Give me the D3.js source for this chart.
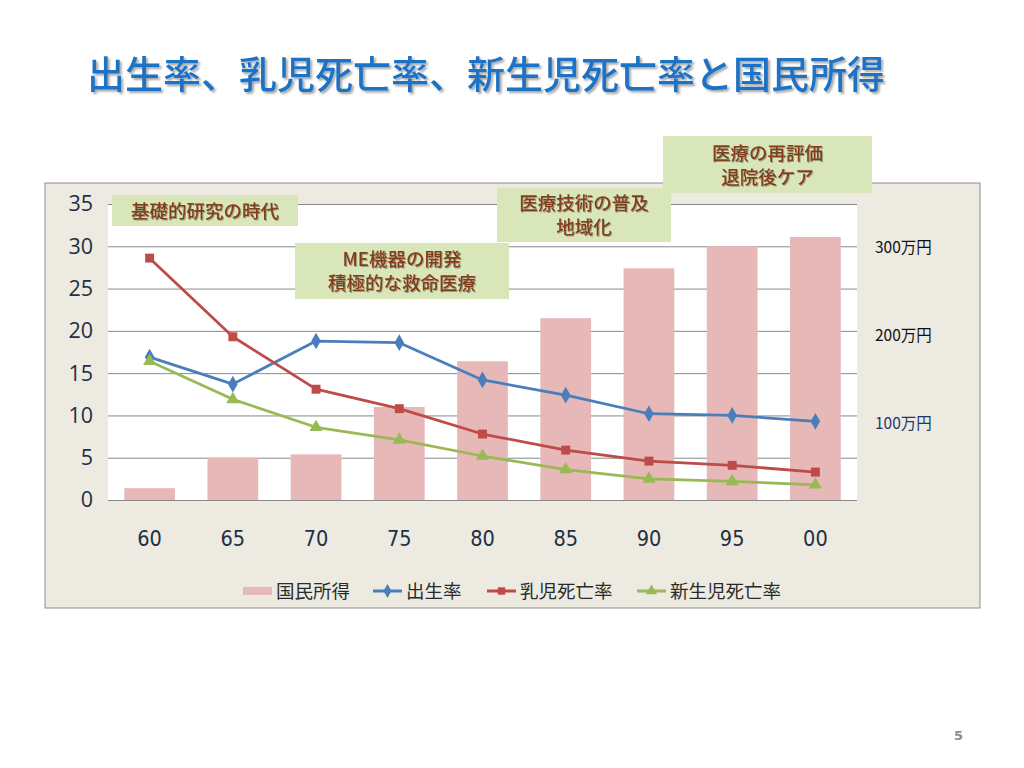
<!DOCTYPE html>
<html>
<head>
<meta charset="utf-8">
<script src="https://cdn.jsdelivr.net/npm/d3@7"></script>
<style>
  body { margin: 0; background: #fff; }
  svg { display: block; }
</style>
</head>
<body>
<div id="chart"></div>
<script>
// data
var years = ["60", "65", "70", "75", "80", "85", "90", "95", "00"];
var income = [14, 50, 54, 110, 164, 215, 274, 300, 311];          // 国民所得 (万円)
var birthRate = [16.9, 13.7, 18.8, 18.6, 14.2, 12.4, 10.2, 10.0, 9.3];   // 出生率
var infantDeath = [28.6, 19.3, 13.1, 10.8, 7.8, 5.9, 4.6, 4.1, 3.3];   // 乳児死亡率
var neonatalDeath = [16.4, 11.9, 8.6, 7.1, 5.2, 3.6, 2.5, 2.2, 1.8];   // 新生児死亡率
var leftTicks = [0, 5, 10, 15, 20, 25, 30, 35];
var incomeLabels = [300, 200, 100];
var title = "出生率、乳児死亡率、新生児死亡率と国民所得";

var W = 1024, H = 768;
var frame = {x: 45, y: 183, w: 935, h: 425};
var margin = {top: 204, left: 108, right: 167, bottom: 268};
var width = W - margin.left - margin.right,
    height = H - margin.top - margin.bottom;

var svg = d3.select("#chart").append("svg")
  .attr("width", W).attr("height", H);

var defs = svg.append("defs");
var f1 = defs.append("filter").attr("id", "tshadow")
  .attr("x", "-5%").attr("y", "-20%").attr("width", "110%").attr("height", "140%");
f1.append("feDropShadow").attr("dx", 2).attr("dy", 2).attr("stdDeviation", 1.2)
  .attr("flood-color", "#000").attr("flood-opacity", 0.35);
var f2 = defs.append("filter").attr("id", "ashadow")
  .attr("x", "-5%").attr("y", "-20%").attr("width", "110%").attr("height", "140%");
f2.append("feDropShadow").attr("dx", 1).attr("dy", 1).attr("stdDeviation", 0.6)
  .attr("flood-color", "#000").attr("flood-opacity", 0.3);

// title
svg.append("text")
  .attr("x", 87).attr("y", 88)
  .attr("font-family", "'Noto Sans CJK JP', sans-serif")
  .attr("font-size", 38)
  .attr("font-weight", 500)
  .attr("fill", "#1F72C4")
  .attr("filter", "url(#tshadow)")
  .text(title);

// chart frame
svg.append("rect")
  .attr("x", frame.x).attr("y", frame.y)
  .attr("width", frame.w).attr("height", frame.h)
  .attr("fill", "#ECEAE1").attr("stroke", "#8C8C8C").attr("stroke-width", 1);

var g = svg.append("g")
  .attr("transform", `translate(${margin.left}, ${margin.top})`);

g.append("rect").attr("width", width).attr("height", height).attr("fill", "#fff");

// scales
var x = d3.scaleBand().domain(years).range([0, width]).paddingInner(0.39).paddingOuter(0.195);
var y = d3.scaleLinear().domain([0, 35]).range([height, 0]);
var yIncome = d3.scaleLinear().domain([0, 350]).range([height, 0]);

// gridlines
g.append("g")
  .call(d3.axisLeft(y).tickValues(leftTicks).tickSize(-width).tickFormat(""))
  .call(function(a) {
    a.select(".domain").remove();
    a.selectAll("line").attr("stroke", "#8A8A8A").attr("stroke-width", 1);
  });

// Y axis labels
g.append("g")
  .call(d3.axisLeft(y).tickValues(leftTicks).tickSize(0).tickPadding(15))
  .call(function(a) {
    a.select(".domain").remove();
    a.selectAll("text")
      .attr("font-family", "'Open Sans', 'DejaVu Sans', sans-serif")
      .attr("font-size", 21.5).attr("fill", "#1F2F45");
  });

// X axis labels
g.append("g")
  .attr("transform", `translate(0, ${height})`)
  .call(d3.axisBottom(x).tickSize(0).tickPadding(31))
  .call(function(a) {
    a.select(".domain").remove();
    a.selectAll("text")
      .attr("font-family", "'DejaVu Sans Condensed', 'DejaVu Sans', sans-serif")
      .attr("font-size", 21.5).attr("fill", "#1F2F45");
  });

// income bars
g.append("g").selectAll("rect")
  .data(income)
  .join("rect")
  .attr("x", function(d, i) { return x(years[i]); })
  .attr("y", function(d) { return yIncome(d); })
  .attr("width", x.bandwidth())
  .attr("height", function(d) { return height - yIncome(d); })
  .attr("fill", "#E6B9B8");

// right side income labels
g.append("g").selectAll("text")
  .data(incomeLabels)
  .join("text")
  .attr("x", width + 18)
  .attr("y", function(d) { return yIncome(d) + 7 + (300 - d) * 0.035; })
  .attr("font-family", "'Noto Sans CJK JP', sans-serif")
  .attr("font-size", 15.5)
  .attr("fill", function(d) { return d === 100 ? "#1F3864" : "#111"; })
  .text(function(d) { return d + "万円"; });

// lines
var series = [
  {name: "出生率", values: birthRate, color: "#4A7EBB", marker: d3.symbolDiamond},
  {name: "乳児死亡率", values: infantDeath, color: "#BE4B48", marker: d3.symbolSquare},
  {name: "新生児死亡率", values: neonatalDeath, color: "#98B954", marker: d3.symbolTriangle}
];

var line = d3.line()
  .x(function(d, i) { return x(years[i]) + x.bandwidth() / 2; })
  .y(function(d) { return y(d); });

series.forEach(function(s) {
  g.append("path")
    .datum(s.values)
    .attr("d", line)
    .attr("fill", "none")
    .attr("stroke", s.color)
    .attr("stroke-width", 2.75)
    .attr("stroke-linejoin", "round");
  g.append("g").selectAll("path")
    .data(s.values)
    .join("path")
    .attr("transform", function(d, i) {
      return `translate(${x(years[i]) + x.bandwidth() / 2}, ${y(d)})`;
    })
    .attr("d", d3.symbol().type(s.marker).size(s.marker === d3.symbolTriangle ? 75 : 80))
    .attr("fill", s.color);
});

// annotation boxes
var notes = [
  {x: 112, y: 195, w: 186, h: 31, lines: ["基礎的研究の時代"]},
  {x: 295, y: 243, w: 214, h: 56, lines: ["ME機器の開発", "積極的な救命医療"]},
  {x: 497, y: 188, w: 174, h: 54, lines: ["医療技術の普及", "地域化"]},
  {x: 663, y: 136, w: 209, h: 57, lines: ["医療の再評価", "退院後ケア"]}
];
var ng = svg.append("g").selectAll("g").data(notes).join("g");
ng.append("rect")
  .attr("x", function(d) { return d.x; }).attr("y", function(d) { return d.y; })
  .attr("width", function(d) { return d.w; }).attr("height", function(d) { return d.h; })
  .attr("fill", "#D8E6BA");
ng.each(function(d) {
  var t = d3.select(this).append("text")
    .attr("text-anchor", "middle")
    .attr("font-family", "'Noto Sans CJK JP', sans-serif")
    .attr("font-size", 18.5)
    .attr("font-weight", 500)
    .attr("fill", "#843C1C")
    .attr("filter", "url(#ashadow)");
  var top = d.y + d.h / 2 - (d.lines.length - 1) * 12 + 7;
  d.lines.forEach(function(l, i) {
    t.append("tspan").attr("x", d.x + d.w / 2).attr("y", top + i * 24).text(l);
  });
});

// legend
var legend = svg.append("g").attr("transform", "translate(0, 591)");
var legendItems = [
  {name: "国民所得", x: 243, type: "bar", color: "#E6B9B8"},
  {name: "出生率", x: 373, type: "line", color: "#4A7EBB", marker: d3.symbolDiamond},
  {name: "乳児死亡率", x: 487, type: "line", color: "#BE4B48", marker: d3.symbolSquare},
  {name: "新生児死亡率", x: 637, type: "line", color: "#98B954", marker: d3.symbolTriangle}
];
legendItems.forEach(function(it) {
  if (it.type === "bar") {
    legend.append("rect").attr("x", it.x).attr("y", -4).attr("width", 29).attr("height", 8)
      .attr("fill", it.color);
  } else {
    legend.append("line").attr("x1", it.x).attr("x2", it.x + 29)
      .attr("y1", 0).attr("y2", 0).attr("stroke", it.color).attr("stroke-width", 3);
    legend.append("path").attr("transform", `translate(${it.x + 14.5}, 0)`)
      .attr("d", d3.symbol().type(it.marker).size(55)).attr("fill", it.color);
  }
  legend.append("text")
    .attr("x", it.x + 33).attr("y", 7)
    .attr("font-family", "'Noto Sans CJK JP', sans-serif")
    .attr("font-size", 18.5).attr("fill", "#2A2A2A")
    .text(it.name);
});

// page number
svg.append("text")
  .attr("x", 963).attr("y", 740)
  .attr("text-anchor", "end")
  .attr("font-family", "'DejaVu Sans', sans-serif")
  .attr("font-size", 13).attr("font-weight", "bold")
  .attr("fill", "#8C8C8C")
  .text("5");
</script>
</body>
</html>
